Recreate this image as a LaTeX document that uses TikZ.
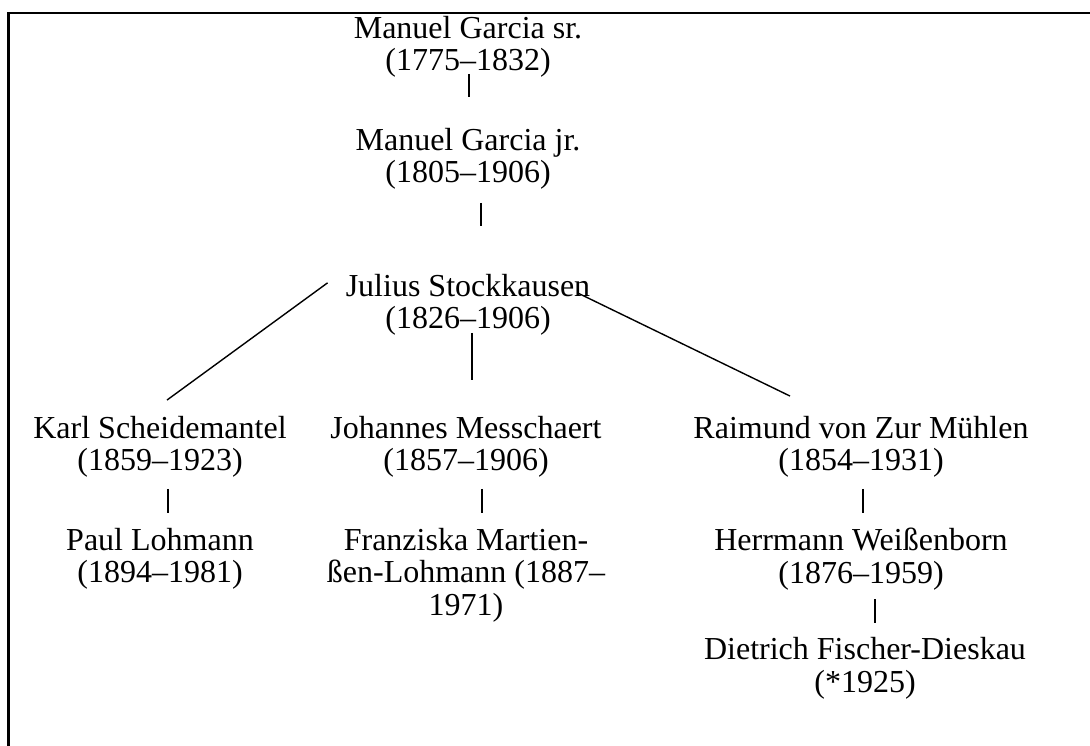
\documentclass[tikz,border=0pt]{standalone}
\usepackage{fontspec}
\setmainfont{Liberation Serif}
\usetikzlibrary{positioning}

\begin{document}
\begin{tikzpicture}[
	x=1pt, y=-1pt,
	node distance=50pt and 0pt,
	person/.style={align=center, inner sep=0pt, font=\fontsize{32}{32.5}\selectfont},
	line/.style={draw, line width=1.4pt},
	]
	\useasboundingbox (0,0) rectangle (1090,745);
	\draw[line width=2.6pt] (8.5,746) -- (8.5,13) -- (1091,13);
	
	\node [person] (sr) at (468,47) {Manuel Garcia sr.\\(1775--1832)};
	\node [person, below= of sr] (jr) {Manuel Garcia jr.\\(1805--1906)};
	\node [person, below=84pt of jr] (stock) {Julius Stockkausen\\(1826--1906)};
	\node [person] (karl) at (160,447) {Karl Scheidemantel\\(1859--1923)};
	\node [person, below= of karl] (paul) {Paul Lohmann\\(1894--1981)};
	\node [person] (mess) at (466,447) {Johannes Messchaert\\(1857--1906)};
	\node [person, below= of mess] (franz) {Franziska Martien-\\ßen-Lohmann (1887--\\1971)};
	\node [person] (raim) at (861,447) {Raimund von Zur Mühlen\\(1854--1931)};
	\node [person, below= of raim] (herr) {Herrmann Weißenborn\\(1876--1959)};
	\node [person, below=47pt of herr, xshift=4pt] (dfd) {Dietrich Fischer-Dieskau\\(*1925)};
	
	\path [line] (sr.south) ++(1,-4) -- ++(0,23);
	\path [line] (jr.south) ++(13,13) -- ++(0,23);
	\path [line] (stock.south) ++(4,-3) -- ++(0,47);
	\path [line] (karl.south) ++(8,11) -- ++(0,24);
	\path [line] (mess.south) ++(16,11) -- ++(0,24);
	\path [line] (raim.south) ++(2,11) -- ++(0,24);
	\path [line] (herr.south) ++(14,9) -- ++(0,24);
	\path [line] ([shift={(-18,-22)}]stock.west) -- ([shift={(7,-16)}]karl.north);
	\path [line] ([shift={(-13,-12)}]stock.east) -- ([shift={(-71,-20)}]raim.north);
\end{tikzpicture}
\end{document}
